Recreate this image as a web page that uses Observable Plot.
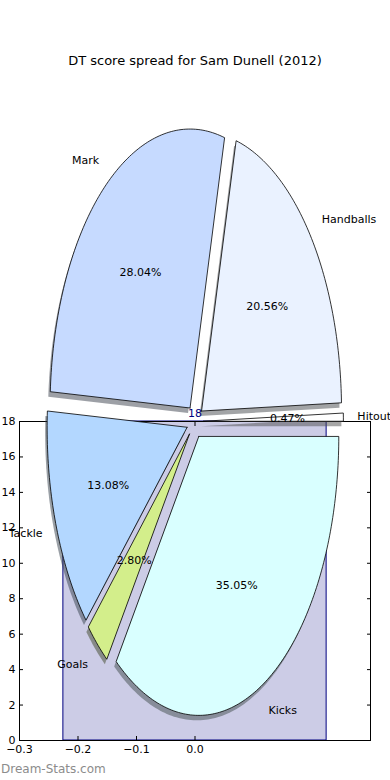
<!DOCTYPE html>
<html><head><meta charset="utf-8">
<script src="https://cdn.jsdelivr.net/npm/d3@7"></script>
<script src="https://cdn.jsdelivr.net/npm/@observablehq/plot@0.6"></script>
<style>
html,body{margin:0;padding:0;background:#fff;}
#wrap{width:390px;height:780px;position:relative;overflow:hidden;font-family:"DejaVu Sans",sans-serif;}
#title{box-sizing:border-box;height:100px;padding-top:53px;font-size:13px;line-height:16px;text-align:center;color:#000;}
#wm{position:absolute;left:1px;top:762px;font-size:12px;color:#8c8c8c;}
</style></head><body>
<div id="wrap">
  <div id="title">DT score spread for Sam Dunell (2012)</div>
  <div id="chart"></div>
  <div id="wm">Dream-Stats.com</div>
</div>
<script>
// ---- data ----
const sliceLabels = ["Hitout", "Handballs", "Mark", "Tackle", "Goals", "Kicks"];
const sliceShares = [0.47, 20.56, 28.04, 13.08, 2.80, 35.05];
const sliceColors = ["#FFFFFF", "#EAF2FF", "#C6DAFF", "#B3D7FF", "#D3EE8B", "#D9FFFF"];
const barX = [0];
const barValues = [18];
const barWidth = 0.45;
const xTicks = [-0.3, -0.2, -0.1, 0.0];
const yTicks = [0, 2, 4, 6, 8, 10, 12, 14, 16, 18];

// ---- layout of the pie in the axes' data space ----
const CX = 0, CY = 18, RX = 0.2393, RY = 15.74, EXPLODE = 0.06;
const SHX = -0.0034, SHY = -0.28;

const total = d3.sum(sliceShares);
let acc = 0;
const wedges = sliceLabels.map((name, i) => {
  const t1 = acc / total * 2 * Math.PI;
  acc += sliceShares[i];
  const t2 = acc / total * 2 * Math.PI;
  const mid = (t1 + t2) / 2;
  const ox = CX + EXPLODE * RX * Math.cos(mid);
  const oy = CY + EXPLODE * RY * Math.sin(mid);
  return {name, i, t1, t2, mid, ox, oy, color: sliceColors[i], pct: sliceShares[i].toFixed(2) + "%"};
});
const pts = [];
for (const w of wedges) {
  const n = Math.max(2, Math.ceil((w.t2 - w.t1) * 180 / Math.PI));
  pts.push({id: w.name, color: w.color, x: w.ox, y: w.oy});
  for (let k = 0; k <= n; ++k) {
    const t = w.t1 + (w.t2 - w.t1) * k / n;
    pts.push({id: w.name, color: w.color, x: w.ox + RX * Math.cos(t), y: w.oy + RY * Math.sin(t)});
  }
  pts.push({id: w.name, color: w.color, x: w.ox, y: w.oy});
}
const shadowColor = c => { const q = d3.rgb(c); return d3.rgb(q.r * 0.3, q.g * 0.3, q.b * 0.3).formatHex(); };
const labelPos = wedges.map(w => ({
  name: w.name, pct: w.pct, cos: Math.cos(w.mid),
  lx: w.ox + 1.1 * RX * Math.cos(w.mid), ly: w.oy + 1.1 * RY * Math.sin(w.mid),
  px: w.ox + 0.6 * RX * Math.cos(w.mid), py: w.oy + 0.6 * RY * Math.sin(w.mid)
}));
const bars = barX.map((x, i) => ({x, v: barValues[i]}));

const plot = Plot.plot({
  width: 390, height: 660,
  marginTop: 321, marginBottom: 20, marginLeft: 19, marginRight: 20,
  style: {fontFamily: "DejaVu Sans, sans-serif", fontSize: "11px", color: "#000", background: "transparent"},
  x: {domain: [-0.3, 0.3]},
  y: {domain: [0, 18]},
  marks: [
    Plot.rect(bars, {x1: d => d.x - barWidth / 2, x2: d => d.x + barWidth / 2, y1: 0, y2: "v", fill: "navy", fillOpacity: 0.2, stroke: "navy", strokeWidth: 1}),
    Plot.frame({stroke: "#000", strokeWidth: 1}),
    Plot.axisY(yTicks, {anchor: "left", tickSize: -4, tickPadding: 8, label: null, tickFormat: d => String(d)}),
    Plot.axisY(yTicks, {anchor: "right", tickSize: -4, tickPadding: 8, label: null, tickFormat: () => ""}),
    Plot.axisX(xTicks, {anchor: "bottom", tickSize: -4, tickPadding: 9, label: null, tickFormat: d3.format(".1f")}),
    Plot.axisX(xTicks, {anchor: "top", tickSize: -4, tickPadding: 6, label: null, tickFormat: () => ""}),
    Plot.line(pts, {x: d => d.x + SHX, y: d => d.y + SHY, z: "id", fill: d => shadowColor(d.color), fillOpacity: 0.5, stroke: "none", curve: "linear"}),
    Plot.line(pts, {x: "x", y: "y", z: "id", fill: d => d.color, stroke: "#000", strokeWidth: 0.8, curve: "linear"}),
    Plot.text(labelPos.filter(d => d.cos >= 0), {x: "lx", y: "ly", text: "name", textAnchor: "start", fill: "#000"}),
    Plot.text(labelPos.filter(d => d.cos < 0), {x: "lx", y: "ly", text: "name", textAnchor: "end", fill: "#000"}),
    Plot.text(labelPos, {x: "px", y: "py", text: "pct", fill: "#000"}),
    Plot.text(bars, {x: "x", y: "v", text: d => String(d.v), dy: -8, fill: "navy"})
  ]
});
document.getElementById("chart").appendChild(plot);
</script>
</body></html>
